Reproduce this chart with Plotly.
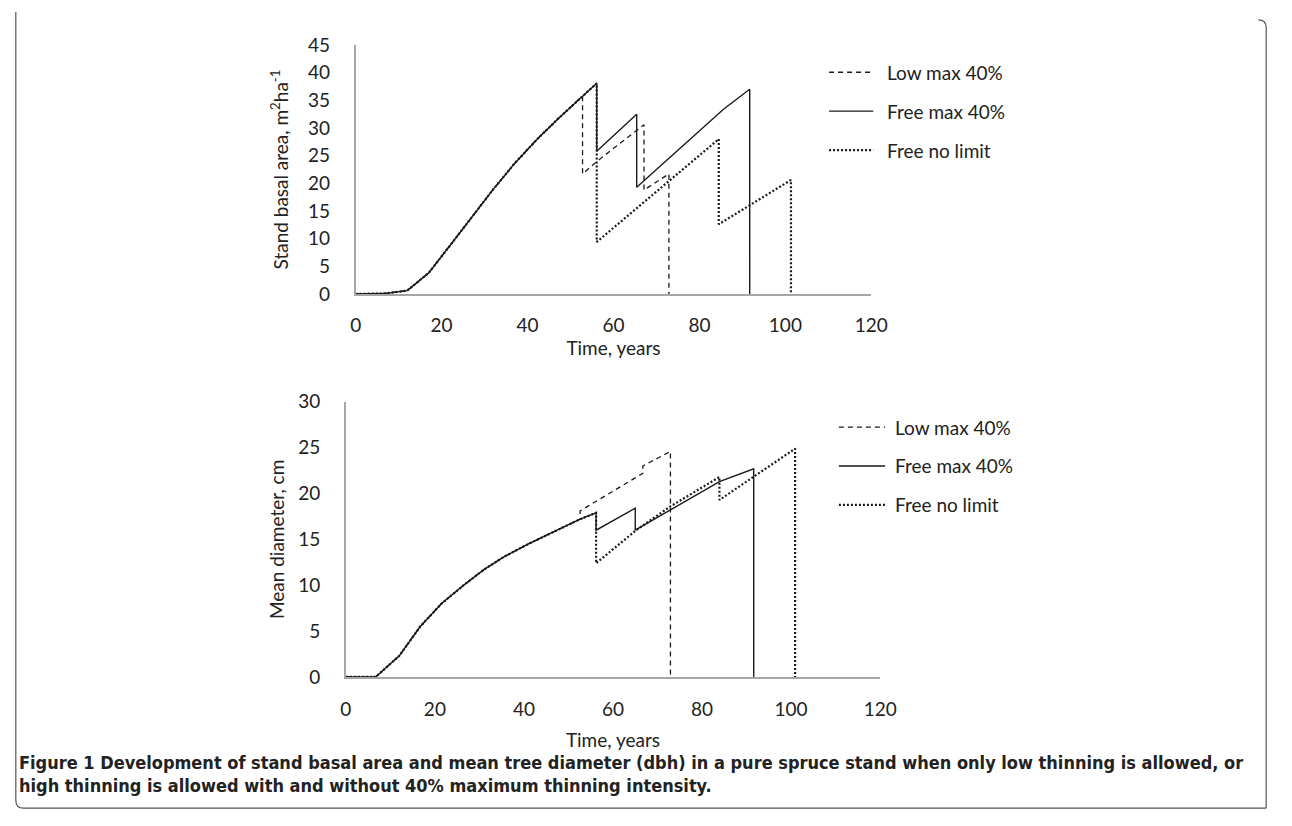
import plotly.graph_objects as go

W, H = 1292, 826

# ---------------- data ----------------
series_names = ["Low max 40%", "Free max 40%", "Free no limit"]

# Top panel: stand basal area (m2/ha)
ba_low_x = [0, 7, 12, 17, 22, 27, 32, 37, 42, 47, 52.8, 52.8, 56.2, 67.1, 67.1, 72.9, 72.9]
ba_low_y = [0, 0.1, 0.6, 3.8, 8.8, 13.9, 18.9, 23.6, 27.8, 31.6, 35.8, 21.7, 24.0, 30.6, 18.8, 21.7, 0]
ba_free_x = [0, 7, 12, 17, 22, 27, 32, 37, 42, 47, 52.8, 56.1, 56.1, 65.4, 65.4, 85.6, 91.7, 91.7]
ba_free_y = [0, 0.1, 0.6, 3.8, 8.8, 13.9, 18.9, 23.6, 27.8, 31.6, 35.8, 38.1, 25.8, 32.5, 19.3, 33.4, 37.0, 0]
ba_nolim_x = [0, 7, 12, 17, 22, 27, 32, 37, 42, 47, 52.8, 56.1, 56.1, 84.5, 84.5, 101.3, 101.3]
ba_nolim_y = [0, 0.1, 0.6, 3.8, 8.8, 13.9, 18.9, 23.6, 27.8, 31.6, 35.8, 38.1, 9.4, 28.0, 12.6, 20.6, 0]

# Bottom panel: mean diameter (cm)
d_low_x = [0, 6.7, 12.0, 16.7, 21.5, 26.7, 31, 35.5, 41, 46.5, 52.6, 52.6, 66.7, 66.7, 72.9, 72.9]
d_low_y = [0, 0, 2.3, 5.5, 8.0, 10.1, 11.7, 13.1, 14.5, 15.8, 17.2, 18.1, 22.2, 23.0, 24.6, 0]
d_free_x = [0, 6.7, 12.0, 16.7, 21.5, 26.7, 31, 35.5, 41, 46.5, 52.6, 56.2, 56.2, 65.0, 65.0, 83.9, 91.6, 91.6]
d_free_y = [0, 0, 2.3, 5.5, 8.0, 10.1, 11.7, 13.1, 14.5, 15.8, 17.2, 17.9, 16.0, 18.4, 16.0, 21.3, 22.7, 0]
d_nolim_x = [0, 6.7, 12.0, 16.7, 21.5, 26.7, 31, 35.5, 41, 46.5, 52.6, 56.2, 56.2, 65.2, 72.9, 83.9, 83.9, 100.9, 100.9]
d_nolim_y = [0, 0, 2.3, 5.5, 8.0, 10.1, 11.7, 13.1, 14.5, 15.8, 17.2, 17.9, 12.4, 16.0, 18.6, 21.8, 19.3, 24.9, 0]

x_ticks = [0, 20, 40, 60, 80, 100, 120]
ba_ticks = [0, 5, 10, 15, 20, 25, 30, 35, 40, 45]
d_ticks = [0, 5, 10, 15, 20, 25, 30]

caption_bold = "Figure 1"
caption_text = (" Development of stand basal area and mean tree diameter (dbh) in a pure spruce stand "
                "when only low thinning is allowed, or")
caption_text2 = "high thinning is allowed with and without 40% maximum thinning intensity."

# ---------------- styling ----------------
FONT = "Lato"
LINE_COL = "#1a1a1a"
dashes = ["5px,4px", "solid", "2px,2px"]
widths = [1.3, 1.4, 2.2]
AXIS_COL = "#a6a6a6"


def px_x(p):
    return p / W


def px_y(p):
    return 1 - p / H


fig = go.Figure()

top = [(ba_low_x, ba_low_y), (ba_free_x, ba_free_y), (ba_nolim_x, ba_nolim_y)]
bot = [(d_low_x, d_low_y), (d_free_x, d_free_y), (d_nolim_x, d_nolim_y)]

for i, (xs, ys) in enumerate(top):
    fig.add_trace(go.Scatter(x=xs, y=ys, mode="lines", name=series_names[i], showlegend=False,
                             line=dict(color=LINE_COL, dash=dashes[i], width=widths[i]),
                             xaxis="x", yaxis="y"))
for i, (xs, ys) in enumerate(bot):
    fig.add_trace(go.Scatter(x=xs, y=ys, mode="lines", name=series_names[i], showlegend=False,
                             line=dict(color=LINE_COL, dash=dashes[i], width=widths[i]),
                             xaxis="x2", yaxis="y2"))

tickfont = dict(family=FONT, size=19, color="#222")
titlefont = dict(family=FONT, size=19, color="#222")

common_x = dict(range=[0, 120], tickvals=x_ticks, showgrid=False, zeroline=False,
                showline=True, linecolor=AXIS_COL, linewidth=1.5, ticks="",
                tickfont=tickfont, ticklabelstandoff=14)
common_y = dict(showgrid=False, zeroline=False, showline=True, linecolor=AXIS_COL,
                linewidth=1.5, ticks="", tickfont=tickfont, ticklabelstandoff=20)

fig.update_layout(
    width=W, height=H, margin=dict(l=0, r=0, t=0, b=0),
    paper_bgcolor="white", plot_bgcolor="white", showlegend=False,
    xaxis=dict(common_x, domain=[px_x(356), px_x(881)], anchor="y",
               title=dict(text="Time, years", font=titlefont, standoff=4)),
    yaxis=dict(common_y, domain=[px_y(290), px_y(34)], range=[0, 45], tickvals=ba_ticks, anchor="x",
               title=dict(text="Stand basal area, m<sup>2</sup>ha<sup>-1</sup>", font=titlefont, standoff=14)),
    xaxis2=dict(common_x, domain=[px_x(346), px_x(890)], anchor="y2",
                title=dict(text="Time, years", font=titlefont, standoff=15)),
    yaxis2=dict(common_y, domain=[px_y(684), px_y(401)], range=[0, 30], tickvals=d_ticks, anchor="x2",
                title=dict(text="Mean diameter, cm", font=titlefont, standoff=9)),
)

# manual legends
legend_specs = [
    (838, 883, 895, [62, 102, 142]),
    (848, 895, 903, [427, 467, 507]),
]
for x0, x1, xt, ys in legend_specs:
    for i, yy in enumerate(ys):
        fig.add_shape(type="line", xref="paper", yref="paper",
                      x0=px_x(x0), x1=px_x(x1), y0=px_y(yy), y1=px_y(yy),
                      line=dict(color=LINE_COL, dash=dashes[i], width=widths[i]))
        fig.add_annotation(xref="paper", yref="paper", x=px_x(xt), y=px_y(yy),
                           text=series_names[i], showarrow=False, xanchor="left", yanchor="middle",
                           font=dict(family=FONT, size=19, color="#222"))

# caption
capfont = dict(family="DejaVu Sans Condensed, Liberation Sans", size=18, color="#222")
fig.add_annotation(xref="paper", yref="paper", x=px_x(11), y=px_y(772),
                   text="<b>" + caption_bold + caption_text + "</b>", showarrow=False,
                   xanchor="left", yanchor="middle", font=capfont)
fig.add_annotation(xref="paper", yref="paper", x=px_x(11), y=px_y(796),
                   text="<b>" + caption_text2 + "</b>", showarrow=False,
                   xanchor="left", yanchor="middle", font=capfont)

# frame
l, t, r, b, rad = 10, 8, 1283, 819, 8
path = (f"M {px_x(l)},{px_y(0)} L {px_x(l)},{px_y(b - rad)} "
        f"Q {px_x(l)},{px_y(b)} {px_x(l + rad)},{px_y(b)} L {px_x(r)},{px_y(b)} "
        f"M {px_x(r - rad)},{px_y(t)} Q {px_x(r)},{px_y(t)} {px_x(r)},{px_y(t + rad)} L {px_x(r)},{px_y(b)}")
fig.add_shape(type="path", xref="paper", yref="paper", path=path,
              line=dict(color="#555", width=1.2))

fig.write_html("out.html", config={"displayModeBar": False},
               post_script="document.body.style.margin='0px';document.body.style.overflow='hidden';")
